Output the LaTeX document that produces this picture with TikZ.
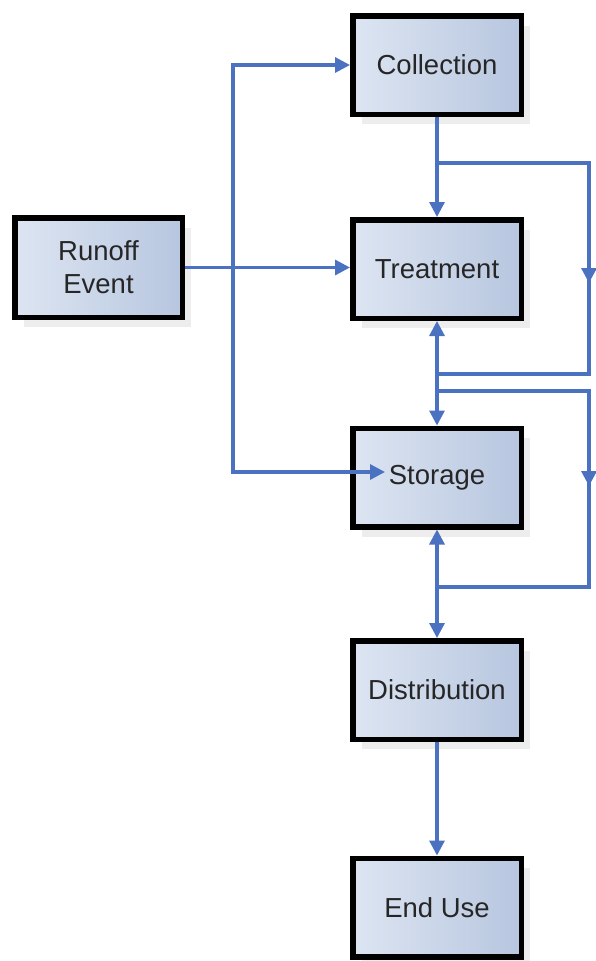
\documentclass[tikz,border=0pt]{standalone}
\usepackage{fontspec}
\setmainfont{Liberation Sans}
\usetikzlibrary{arrows.meta,shadows}
\definecolor{lineblue}{HTML}{4A72C0}
\definecolor{boxlight}{HTML}{DDE5F2}
\definecolor{boxdark}{HTML}{B7C6DF}
\definecolor{txt}{HTML}{262626}
\begin{document}
\begin{tikzpicture}[x=1pt,y=-1pt,
  box/.style={draw=black, line width=5.5pt, minimum width=168.5pt, minimum height=98.5pt,
    inner sep=0pt, left color=boxlight, right color=boxdark,
    drop shadow={shadow xshift=9pt, shadow yshift=-10pt, fill=black, opacity=0.07},
    font=\fontsize{27.5}{33}\selectfont, text=txt, align=center},
  conn/.style={draw=lineblue, line width=3.2pt},
  tip/.tip={Triangle[length=15pt,width=15pt]}]
\useasboundingbox (0,0) rectangle (596,961);
\clip (0,0) rectangle (596,961);
% boxes
\node[box] (coll) at (437,65) {Collection};
\node[box] (treat) at (437,269) {Treatment};
\node[box, minimum width=167.5pt, minimum height=99.5pt] (runoff) at (98.5,267.5) {Runoff\\Event};
\node[box] (stor) at (437,477.5) {Storage};
\node[box] (dist) at (437,690) {Distribution};
\node[box] (enduse) at (437,907.5) {End Use};
% coordinates
\coordinate (jL) at (233,267.5);
\coordinate (sIn) at (385,472);
\coordinate (a1) at (437,163);
\coordinate (a1tip) at (589,283);
\coordinate (a1mid) at (589,268);
\coordinate (a1end) at (437,374);
\coordinate (a2) at (437,391);
\coordinate (a2tip) at (589,486);
\coordinate (a2mid) at (589,471);
\coordinate (a2end) at (437,587);
% connectors
\draw[conn,-tip] (runoff.east) -- (runoff.east -| treat.west);
\draw[conn,-tip] (jL) |- (coll.west);
\draw[conn,-tip] (jL) |- (sIn);
\draw[conn,-tip] (coll.south) -- (treat.north);
\draw[conn,-tip] (a1) -| (a1tip);
\draw[conn] (a1mid) |- (a1end);
\draw[conn,tip-tip] (treat.south) -- (stor.north);
\draw[conn,-tip] (a2) -| (a2tip);
\draw[conn] (a2mid) |- (a2end);
\draw[conn,tip-tip] (stor.south) -- (dist.north);
\draw[conn,-tip] (dist.south) -- (enduse.north);
\end{tikzpicture}
\end{document}
